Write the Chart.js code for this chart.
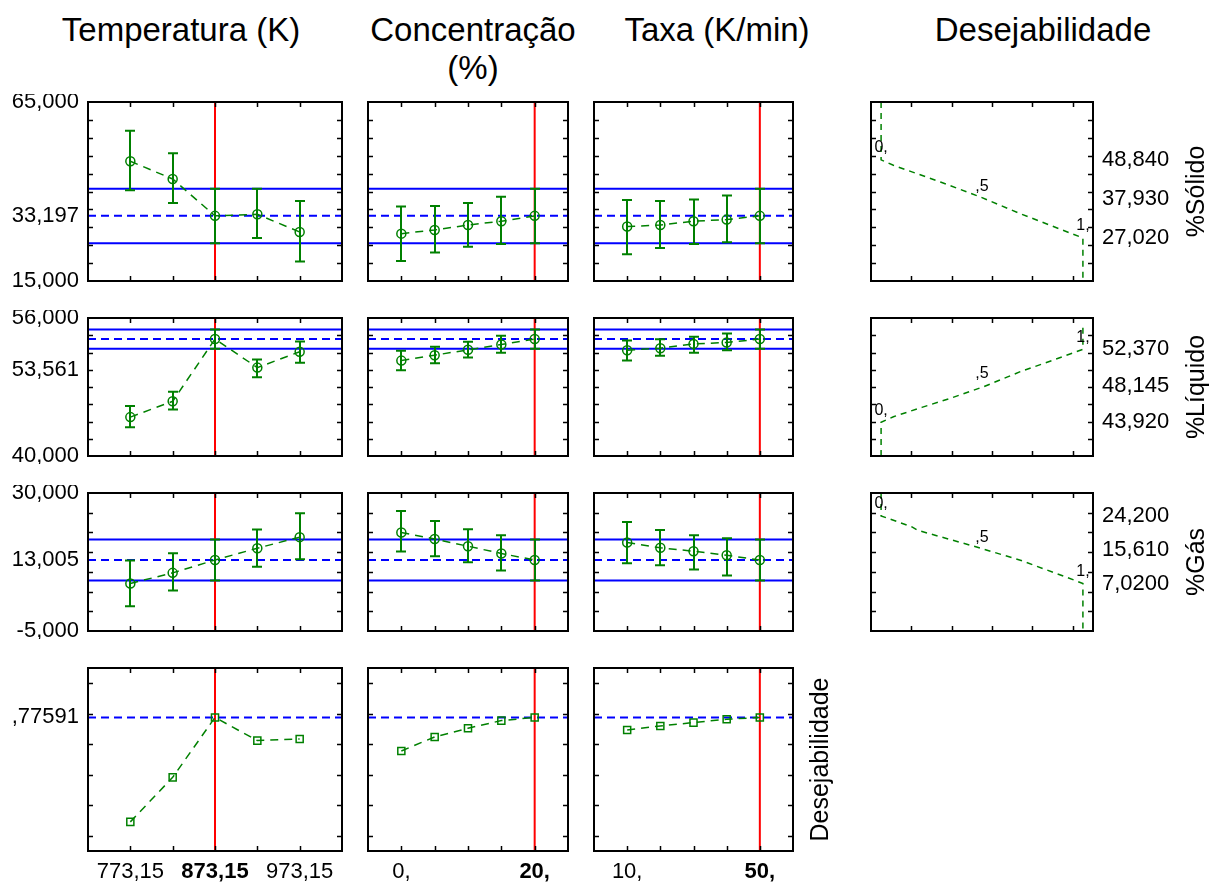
<!DOCTYPE html>
<html><head><meta charset="utf-8"><title>Perfis de desejabilidade</title>
<script src="https://cdn.jsdelivr.net/npm/chart.js@4.4.1/dist/chart.umd.min.js"></script>
<style>
html,body{margin:0;padding:0;background:#fff}
#wrap{position:relative;width:1220px;height:889px;overflow:hidden;font-family:"Liberation Sans",Arial,Helvetica,sans-serif}
#wrap canvas{position:absolute}
.ttl{position:absolute;font-size:33px;line-height:38px;text-align:center;color:#000;white-space:nowrap;transform:translateX(-50%)}
</style></head><body><div id="wrap"></div><script>
// ================= DATA =================
const factorNames = ['Temperatura (K)', 'Concentração<br>(%)', 'Taxa (K/min)'];
const desTitle = 'Desejabilidade';
const responseNames = ['%Sólido', '%Líquido', '%Gás'];

const tempLevels = [773.15, 823.15, 873.15, 923.15, 973.15];
const concLevels = [0, 5, 10, 15, 20];
const taxaLevels = [10, 20, 30, 40, 50];
const currentLevels = [873.15, 20, 50];

const tempTickValues = [773.15, 873.15, 973.15];
const tempTickLabels = ['773,15', '873,15', '973,15'];
const concTickValues = [0, 20];
const concTickLabels = ['0,', '20,'];
const taxaTickValues = [10, 50];
const taxaTickLabels = ['10,', '50,'];

// %Sólido
const solidTempMean = [48.44, 43.5, 33.197, 33.63, 28.7];
const solidTempLow  = [40.34, 36.8, 25.55, 27.0, 20.42];
const solidTempHigh = [57.0, 50.67, 40.8, 40.8, 37.35];
const solidConcMean = [28.23, 29.25, 30.64, 31.7, 33.197];
const solidConcLow  = [20.6, 22.93, 24.6, 25.34, 25.55];
const solidConcHigh = [35.8, 35.95, 36.8, 38.5, 40.8];
const solidTaxaMean = [30.2, 30.64, 31.7, 32.15, 33.197];
const solidTaxaLow  = [22.5, 24.23, 25.34, 25.8, 25.55];
const solidTaxaHigh = [37.6, 37.35, 37.8, 38.85, 40.8];

// %Líquido
const liqTempMean = [44.51, 46.34, 53.561, 50.25, 52.08];
const liqTempLow  = [43.33, 45.4, 52.43, 49.13, 50.8];
const liqTempHigh = [45.8, 47.46, 54.67, 51.18, 53.28];
const liqConcMean = [51.06, 51.69, 52.31, 52.93, 53.561];
const liqConcLow  = [49.94, 50.76, 51.41, 51.96, 52.43];
const liqConcHigh = [52.19, 52.66, 53.24, 53.94, 54.67];
const liqTaxaMean = [52.27, 52.5, 53.0, 53.16, 53.561];
const liqTaxaLow  = [51.06, 51.61, 51.96, 52.27, 52.43];
const liqTaxaHigh = [53.39, 53.55, 53.82, 54.2, 54.67];

// %Gás
const gasTempMean = [7.05, 9.75, 13.005, 16.0, 18.8];
const gasTempLow  = [1.3, 5.3, 7.82, 11.3, 13.2];
const gasTempHigh = [12.9, 14.73, 18.2, 20.73, 24.86];
const gasConcMean = [20.0, 18.33, 16.5, 14.66, 13.005];
const gasConcLow  = [15.16, 13.98, 12.46, 10.36, 7.82];
const gasConcHigh = [25.44, 22.9, 20.8, 19.3, 18.2];
const gasTaxaMean = [17.44, 16.1, 15.24, 14.2, 13.005];
const gasTaxaLow  = [12.2, 11.67, 10.6, 9.1, 7.82];
const gasTaxaHigh = [22.66, 20.63, 19.3, 18.5, 18.2];

const predicted = [33.197, 53.561, 13.005];
const ciLow  = [25.55, 52.43, 7.82];
const ciHigh = [40.8, 54.67, 18.2];
const solidAxisValues = [65, 33.197, 15];
const solidAxisLabels = ['65,000', '33,197', '15,000'];
const liqAxisValues = [56, 53.561, 40];
const liqAxisLabels = ['56,000', '53,561', '40,000'];
const gasAxisValues = [30, 13.005, -5];
const gasAxisLabels = ['30,000', '13,005', '-5,000'];

// overall desirability profiles
const desTemp = [0.091, 0.383, 0.77591, 0.624, 0.635];
const desConc = [0.556, 0.648, 0.705, 0.755, 0.77591];
const desTaxa = [0.694, 0.720, 0.742, 0.764, 0.77591];
const desOverall = 0.77591;
const desOverallLabel = ',77591';

// individual desirability functions (x = desirability, y = response)
const solidFnD = [0, 0, 0.061, 0.294, 0.493, 0.69, 1, 1];
const solidFnY = [65, 48.84, 47.32, 42.65, 38.46, 33.8, 27.02, 15];
const liqFnD = [0, 0, 0.061, 0.202, 0.343, 0.509, 0.69, 0.857, 1, 1];
const liqFnY = [40, 43.92, 44.55, 45.64, 46.69, 48.04, 49.78, 51.15, 52.37, 55.4];
const gasFnD = [0, 0, 0.153, 0.18, 0.46, 0.69, 0.957, 1, 1];
const gasFnY = [30, 24.2, 21.4, 20.56, 16.5, 12.96, 7.9, 7.02, -5];
const fnAnchorD = [0, 0.5, 1];
const fnAnchorLabels = ['0,', ',5', '1,'];
const solidFnValues = [48.84, 37.93, 27.02];
const solidFnLabels = ['48,840', '37,930', '27,020'];
const liqFnValues = [43.92, 48.145, 52.37];
const liqFnLabels = ['43,920', '48,145', '52,370'];
const gasFnValues = [24.2, 15.61, 7.02];
const gasFnLabels = ['24,200', '15,610', '7,0200'];

// ================= LAYOUT / STYLE =================
const COLS = [[88, 342], [368, 568], [594, 793], [871, 1093]];
const ROWS = [[102, 281], [318, 456], [493, 631], [668, 851]];
const X_RANGES = [[723.15, 1023.15], [-5, 25], [0, 60]];
const DES_X_RANGE = [-0.05, 1.05];
const DES_X_TICKS = [0.15, 0.35, 0.55, 0.75, 0.95];
const Y_RANGES = [[15, 65], [40, 56], [-5, 30], [-0.1, 1.1]];
const Y_STEPS = [5, 2, 5, 0.2];
const MID_LABEL_AT = [null, 50, null, null]; // Statistica shifted the %Líquido label to avoid overlap
const TITLE_CENTERS = [181, 473, 717, 1043];
const GREEN = '#008000', BLUE = '#0000ff', RED = '#ff0000';
const FONT = '"Liberation Sans", Arial, Helvetica, sans-serif';

const factorLevels = [tempLevels, concLevels, taxaLevels];
const factorTickValues = [tempTickValues, concTickValues, taxaTickValues];
const factorTickLabels = [tempTickLabels, concTickLabels, taxaTickLabels];
const means = [[solidTempMean, solidConcMean, solidTaxaMean], [liqTempMean, liqConcMean, liqTaxaMean], [gasTempMean, gasConcMean, gasTaxaMean]];
const lows = [[solidTempLow, solidConcLow, solidTaxaLow], [liqTempLow, liqConcLow, liqTaxaLow], [gasTempLow, gasConcLow, gasTaxaLow]];
const highs = [[solidTempHigh, solidConcHigh, solidTaxaHigh], [liqTempHigh, liqConcHigh, liqTaxaHigh], [gasTempHigh, gasConcHigh, gasTaxaHigh]];
const axisValues = [solidAxisValues, liqAxisValues, gasAxisValues];
const axisLabels = [solidAxisLabels, liqAxisLabels, gasAxisLabels];
const desProfiles = [desTemp, desConc, desTaxa];
const fnD = [solidFnD, liqFnD, gasFnD];
const fnY = [solidFnY, liqFnY, gasFnY];
const fnValues = [solidFnValues, liqFnValues, gasFnValues];
const fnLabels = [solidFnLabels, liqFnLabels, gasFnLabels];

const wrap = document.getElementById('wrap');

// titles
[...factorNames, desTitle].forEach((t, i) => {
  const d = document.createElement('div');
  d.className = 'ttl';
  d.innerHTML = t;
  d.style.left = TITLE_CENTERS[i] + 'px';
  d.style.top = '11px';
  wrap.appendChild(d);
});

function drawText(ctx, s, x, y, size, o = {}) {
  ctx.save();
  ctx.font = (o.bold ? 'bold ' : '') + size + 'px ' + FONT;
  ctx.fillStyle = '#000';
  ctx.textAlign = o.align || 'center';
  ctx.textBaseline = o.base || 'middle';
  ctx.translate(x, y);
  if (o.rot) ctx.rotate(o.rot);
  ctx.fillText(s, 0, 0);
  ctx.restore();
}

function yTickValues(r) {
  const [mn, mx] = Y_RANGES[r], st = Y_STEPS[r], out = [];
  for (let k = Math.ceil(mn / st + 1e-6); k <= Math.floor(mx / st - 1e-6); k++) out.push(+(k * st).toFixed(6));
  return out;
}

function panelPlugin(info) {
  return {
    id: 'panel',
    afterDatasetsDraw(chart) {
      if (!info.err) return;
      const ctx = chart.ctx, xs = chart.scales.x, ys = chart.scales.y;
      ctx.save();
      ctx.strokeStyle = GREEN; ctx.lineWidth = 2;
      info.err.x.forEach((xv, i) => {
        const px = Math.round(xs.getPixelForValue(xv));
        const pl = ys.getPixelForValue(info.err.lo[i]), ph = ys.getPixelForValue(info.err.hi[i]);
        ctx.beginPath();
        ctx.moveTo(px, pl); ctx.lineTo(px, ph);
        ctx.moveTo(px - 5, pl); ctx.lineTo(px + 5, pl);
        ctx.moveTo(px - 5, ph); ctx.lineTo(px + 5, ph);
        ctx.stroke();
      });
      ctx.restore();
    },
    afterDraw(chart) {
      const ctx = chart.ctx, a = chart.chartArea, xs = chart.scales.x, ys = chart.scales.y;
      ctx.save();
      ctx.strokeStyle = '#000'; ctx.lineWidth = 1.5;
      ctx.beginPath();
      info.xTicks.forEach(v => {
        const p = Math.round(xs.getPixelForValue(v)) + 0.5;
        ctx.moveTo(p, a.top); ctx.lineTo(p, a.top + 5);
        ctx.moveTo(p, a.bottom); ctx.lineTo(p, a.bottom - 5);
      });
      info.yTicks.forEach(v => {
        const p = Math.round(ys.getPixelForValue(v)) + 0.5;
        ctx.moveTo(a.left, p); ctx.lineTo(a.left + 5, p);
        ctx.moveTo(a.right, p); ctx.lineTo(a.right - 5, p);
      });
      ctx.stroke();
      ctx.lineWidth = 2;
      ctx.strokeRect(a.left, a.top, a.right - a.left, a.bottom - a.top);
      ctx.restore();
      (info.left || []).forEach(l => drawText(ctx, l.text, a.left - 9, ys.getPixelForValue(l.at), 22, {align: 'right'}));
      (info.right || []).forEach(l => drawText(ctx, l.text, a.right + 9, ys.getPixelForValue(l.at), 22, {align: 'left'}));
      (info.bottom || []).forEach(l => drawText(ctx, l.text, xs.getPixelForValue(l.at), a.bottom + 21, 22, {bold: l.bold}));
      (info.anchors || []).forEach(l => drawText(ctx, l.text, xs.getPixelForValue(l.x), ys.getPixelForValue(l.y) - 4, 16, {base: 'bottom'}));
      if (info.rot) drawText(ctx, info.rot.text, a.right + info.rot.dx, (a.top + a.bottom) / 2, 25, {rot: -Math.PI / 2});
    }
  };
}

function makeChart(c, r, datasets, xRange, info) {
  const pad = {
    left: c === 0 ? 88 : 8,
    right: c === 3 ? 1220 - COLS[3][1] : (c === 2 && r === 3 ? 60 : 8),
    top: 8,
    bottom: r === 3 ? 889 - ROWS[3][1] : 8
  };
  const w = COLS[c][1] - COLS[c][0] + pad.left + pad.right;
  const h = ROWS[r][1] - ROWS[r][0] + pad.top + pad.bottom;
  const cv = document.createElement('canvas');
  cv.width = w; cv.height = h;
  cv.style.width = w + 'px'; cv.style.height = h + 'px';
  cv.style.left = (COLS[c][0] - pad.left) + 'px';
  cv.style.top = (ROWS[r][0] - pad.top) + 'px';
  wrap.appendChild(cv);
  new Chart(cv, {
    type: 'scatter',
    data: {datasets},
    options: {
      responsive: false, animation: false, devicePixelRatio: 1, events: [],
      layout: {padding: pad},
      plugins: {legend: {display: false}, tooltip: {enabled: false}},
      scales: {
        x: {type: 'linear', display: false, min: xRange[0], max: xRange[1]},
        y: {type: 'linear', display: false, min: Y_RANGES[r][0], max: Y_RANGES[r][1]}
      }
    },
    plugins: [panelPlugin(info)]
  });
}

function seg(x0, y0, x1, y1, color, dash) {
  return {data: [{x: x0, y: y0}, {x: x1, y: y1}], showLine: true, borderColor: color, borderWidth: 2,
          borderDash: dash || [], pointRadius: 0, clip: 0};
}

// response rows
for (let r = 0; r < 3; r++) {
  for (let c = 0; c < 3; c++) {
    const xr = X_RANGES[c], yr = Y_RANGES[r], lv = factorLevels[c];
    const ds = [
      {data: lv.map((x, i) => ({x, y: means[r][c][i]})), showLine: true, borderColor: GREEN, borderWidth: 1.5,
       borderDash: [8, 6], pointStyle: 'circle', pointRadius: 4.5, pointBorderWidth: 1.5,
       pointBorderColor: GREEN, pointBackgroundColor: 'rgba(0,0,0,0)'},
      seg(currentLevels[c], yr[0], currentLevels[c], yr[1], RED),
      seg(xr[0], predicted[r], xr[1], predicted[r], BLUE, [8, 5]),
      seg(xr[0], ciHigh[r], xr[1], ciHigh[r], BLUE),
      seg(xr[0], ciLow[r], xr[1], ciLow[r], BLUE)
    ];
    const info = {
      xTicks: lv, yTicks: yTickValues(r),
      err: {x: lv, lo: lows[r][c], hi: highs[r][c]}
    };
    if (c === 0) {
      info.left = axisValues[r].map((v, i) => ({text: axisLabels[r][i], at: (i === 1 && MID_LABEL_AT[r] !== null) ? MID_LABEL_AT[r] : v}));
    }
    makeChart(c, r, ds, xr, info);
  }
  // desirability function column
  const ds = [{data: fnD[r].map((x, i) => ({x, y: fnY[r][i]})), showLine: true, borderColor: GREEN, borderWidth: 1.5,
               borderDash: [6, 5], pointRadius: 0}];
  makeChart(3, r, ds, DES_X_RANGE, {
    xTicks: DES_X_TICKS, yTicks: yTickValues(r),
    right: fnValues[r].map((v, i) => ({text: fnLabels[r][i], at: v})),
    anchors: fnAnchorD.map((d, i) => ({text: fnAnchorLabels[i], x: d, y: fnValues[r][i]})),
    rot: {text: responseNames[r], dx: 104}
  });
}

// overall desirability row
for (let c = 0; c < 3; c++) {
  const xr = X_RANGES[c], yr = Y_RANGES[3], lv = factorLevels[c];
  const ds = [
    {data: lv.map((x, i) => ({x, y: desProfiles[c][i]})), showLine: true, borderColor: GREEN, borderWidth: 1.5,
     borderDash: [8, 6], pointStyle: 'rect', pointRadius: 5, pointBorderWidth: 1.5,
     pointBorderColor: GREEN, pointBackgroundColor: 'rgba(0,0,0,0)'},
    seg(currentLevels[c], yr[0], currentLevels[c], yr[1], RED),
    seg(xr[0], desOverall, xr[1], desOverall, BLUE, [8, 5])
  ];
  const info = {
    xTicks: lv, yTicks: yTickValues(3),
    bottom: factorTickValues[c].map((v, i) => ({text: factorTickLabels[c][i], at: v, bold: v === currentLevels[c]}))
  };
  if (c === 0) info.left = [{text: desOverallLabel, at: desOverall}];
  if (c === 2) info.rot = {text: desTitle, dx: 28};
  makeChart(c, 3, ds, xr, info);
}
</script></body></html>
